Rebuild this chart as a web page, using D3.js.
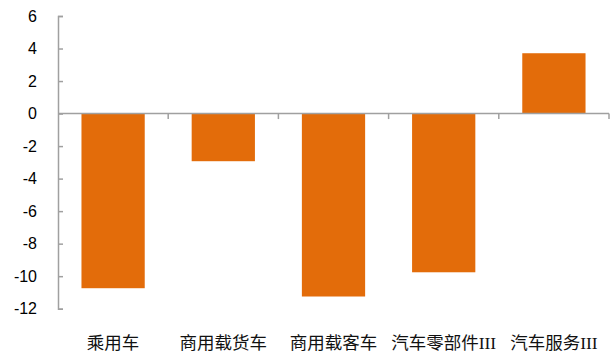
<!DOCTYPE html>
<html>
<head>
<meta charset="utf-8">
<script src="https://cdn.jsdelivr.net/npm/d3@7"></script>
<style>
  body { margin: 0; background: #fff; }
</style>
</head>
<body>
<svg id="chart" width="611" height="353"></svg>
<script>
// values
const categories = ["乘用车", "商用载货车", "商用载客车", "汽车零部件III", "汽车服务III"];
const values = [-10.74, -2.93, -11.25, -9.76, 3.71];
const yTicks = [6, 4, 2, 0, -2, -4, -6, -8, -10, -12];

const svg = d3.select("#chart");
const plotLeft = 58, plotRight = 609, plotTop = 16, plotBottom = 308.7;

const x = d3.scaleBand()
  .domain(categories)
  .range([plotLeft, plotRight])
  .paddingInner(0.426)
  .paddingOuter(0.213);

const y = d3.scaleLinear().domain([-12, 6]).range([plotBottom, plotTop]);

// y axis, ticks point inward like the original; plain hyphen for negatives
const yAxis = svg.append("g")
  .attr("transform", `translate(${plotLeft},0)`)
  .call(d3.axisLeft(y)
    .tickValues(yTicks)
    .tickFormat(d => String(d))
    .tickSizeInner(-5).tickSizeOuter(-5).tickPadding(21));

yAxis.selectAll("path, line").attr("stroke", "#a0a0a0").attr("stroke-width", 1.5);
yAxis.selectAll("text")
  .style("font-family", "'Liberation Sans', Arial, sans-serif")
  .style("font-size", "16px")
  .attr("fill", "#000");

// bars
svg.append("g").selectAll("rect")
  .data(values)
  .join("rect")
  .attr("x", (d, i) => x(categories[i]))
  .attr("width", x.bandwidth())
  .attr("y", d => y(Math.max(0, d)))
  .attr("height", d => Math.abs(y(d) - y(0)))
  .attr("fill", "#e36c0a");

// zero line with ticks between categories
const zeroY = y(0);
svg.append("line")
  .attr("x1", plotLeft).attr("x2", plotRight)
  .attr("y1", zeroY).attr("y2", zeroY)
  .attr("stroke", "#a0a0a0").attr("stroke-width", 1.5);

const step = x.step();
const boundaries = d3.range(1, categories.length + 1).map(i => plotLeft + i * step);
svg.append("g").selectAll("line")
  .data(boundaries)
  .join("line")
  .attr("x1", d => d).attr("x2", d => d)
  .attr("y1", zeroY).attr("y2", zeroY + 5.5)
  .attr("stroke", "#a0a0a0").attr("stroke-width", 1.5);

// category labels at the bottom
svg.append("g").selectAll("text")
  .data(categories)
  .join("text")
  .attr("x", d => x(d) + x.bandwidth() / 2)
  .attr("y", 349)
  .attr("text-anchor", "middle")
  .style("font-family", "'Liberation Serif', 'Noto Sans CJK SC', serif")
  .style("font-size", "17.5px")
  .attr("fill", "#111")
  .text(d => d);
</script>
</body>
</html>
